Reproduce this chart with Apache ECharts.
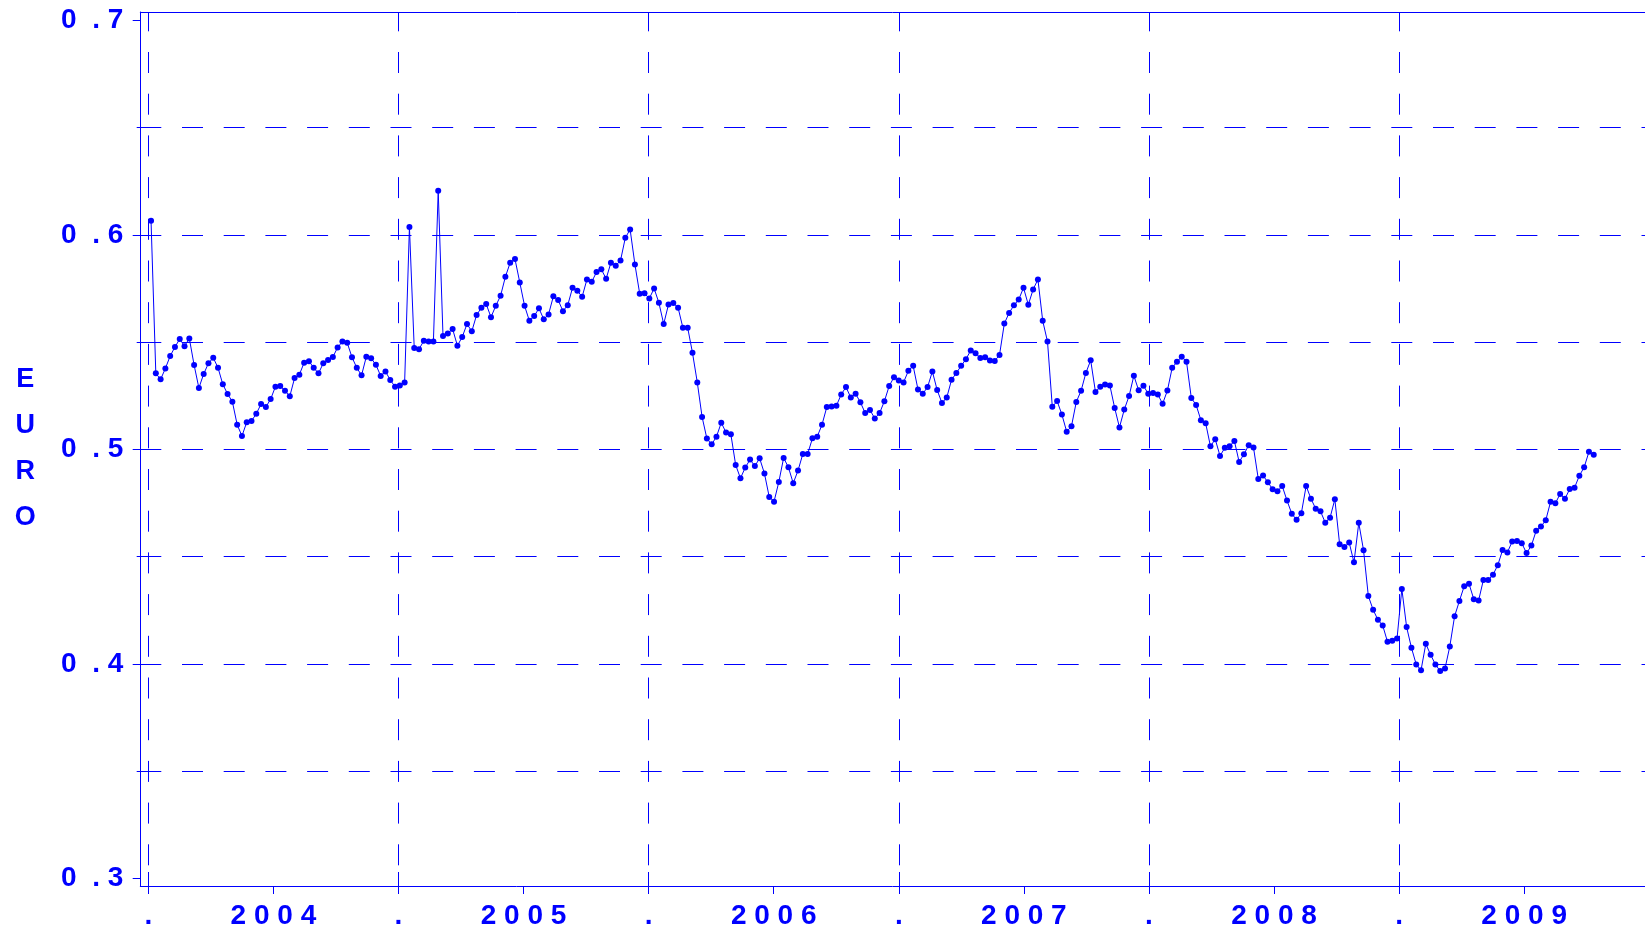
<!DOCTYPE html>
<html>
<head>
<meta charset="utf-8">
<title>EURO</title>
<script src="https://cdn.jsdelivr.net/npm/echarts@6.0.0/dist/echarts.min.js"></script>
<style>
  html, body { margin: 0; padding: 0; background: #fff; }
  #chart { width: 1645px; height: 930px; }
</style>
</head>
<body>
<div id="chart"></div>
<script>
// weekly rates, first week starts 2004-01-05
const rate2004 = [0.6065,0.5354,0.5326,0.5377,0.5435,0.5477,0.5514,0.5481,0.5517,0.5393,
  0.5286,0.5351,0.5401,0.5427,0.5380,0.5303,0.5258,0.5222,0.5115,0.5062,
  0.5126,0.5132,0.5166,0.5211,0.5197,0.5234,0.5292,0.5295,0.5273,0.5247,
  0.5332,0.5348,0.5404,0.5411,0.5380,0.5354,0.5401,0.5416,0.5430,0.5475,
  0.5502,0.5497,0.5429,0.5380,0.5345,0.5432,0.5424,0.5394,0.5342,0.5363,
  0.5323,0.5292]
const rate2005 = [0.5297,0.5312,0.6036,0.5472,0.5467,0.5506,0.5503,0.5503,0.6205,0.5528,
  0.5540,0.5561,0.5483,0.5523,0.5584,0.5550,0.5626,0.5660,0.5677,0.5616,
  0.5669,0.5716,0.5804,0.5870,0.5887,0.5778,0.5669,0.5599,0.5621,0.5657,
  0.5606,0.5629,0.5713,0.5696,0.5644,0.5672,0.5753,0.5739,0.5711,0.5792,
  0.5781,0.5826,0.5839,0.5795,0.5870,0.5856,0.5880,0.5986,0.6025,0.5862,
  0.5725,0.5727]
const rate2006 = [0.5703,0.5750,0.5683,0.5584,0.5675,0.5682,0.5660,0.5567,0.5567,0.5450,
  0.5312,0.5151,0.5050,0.5023,0.5059,0.5124,0.5078,0.5070,0.4927,0.4865,
  0.4915,0.4952,0.4922,0.4958,0.4887,0.4778,0.4756,0.4848,0.4960,0.4916,
  0.4842,0.4901,0.4978,0.4978,0.5051,0.5059,0.5115,0.5197,0.5199,0.5203,
  0.5256,0.5290,0.5241,0.5259,0.5219,0.5169,0.5183,0.5144,0.5169,0.5224,
  0.5295,0.5336]
const rate2007 = [0.5321,0.5312,0.5366,0.5389,0.5279,0.5259,0.5290,0.5363,0.5276,0.5216,
  0.5241,0.5324,0.5356,0.5389,0.5420,0.5461,0.5448,0.5426,0.5429,0.5414,
  0.5412,0.5440,0.5586,0.5636,0.5671,0.5698,0.5753,0.5674,0.5745,0.5792,
  0.5599,0.5502,0.5198,0.5225,0.5162,0.5082,0.5108,0.5221,0.5273,0.5356,
  0.5415,0.5267,0.5292,0.5302,0.5298,0.5193,0.5102,0.5185,0.5248,0.5343,
  0.5275,0.5296,0.5259]
const rate2008 = [0.5262,0.5256,0.5212,0.5274,0.5380,0.5408,0.5432,0.5408,0.5239,0.5207,
  0.5136,0.5122,0.5014,0.5047,0.4969,0.5007,0.5014,0.5039,0.4941,0.4977,
  0.5019,0.5008,0.4862,0.4878,0.4846,0.4814,0.4804,0.4829,0.4761,0.4700,
  0.4671,0.4702,0.4829,0.4770,0.4723,0.4711,0.4658,0.4681,0.4767,0.4557,
  0.4544,0.4565,0.4473,0.4657,0.4529,0.4316,0.4252,0.4205,0.4179,0.4103,
  0.4107,0.4118]
const rate2009 = [0.4349,0.4171,0.4075,0.3997,0.3970,0.4093,0.4042,0.3997,0.3966,0.3978,
  0.4081,0.4222,0.4293,0.4362,0.4373,0.4301,0.4295,0.4391,0.4391,0.4415,
  0.4460,0.4530,0.4519,0.4570,0.4573,0.4562,0.4516,0.4551,0.4620,0.4640,
  0.4669,0.4755,0.4748,0.4792,0.4769,0.4815,0.4821,0.4877,0.4916,0.4988,
  0.4975]

const yearStarts = [2004, 2005, 2006, 2007, 2008, 2009]
const yearMids = [2004.5, 2005.5, 2006.5, 2007.5, 2008.5, 2009.5]
const yMajor = [0.3, 0.4, 0.5, 0.6, 0.7]
const yMinor = [0.35, 0.45, 0.55, 0.65]
const gridLevels = [0.35, 0.4, 0.45, 0.5, 0.55, 0.6, 0.65]

const BLUE = '#0000ff'
const FONT = '"Liberation Sans", Arial, sans-serif'
const DASH = [21, 20.7]

// date -> decimal year, so year boundaries land on integers
function decYear(t) {
  const d = new Date(t)
  const y = d.getUTCFullYear()
  const s = Date.UTC(y, 0, 1)
  const e = Date.UTC(y + 1, 0, 1)
  return y + (t - s) / (e - s)
}

const values = [].concat(rate2004, rate2005, rate2006, rate2007, rate2008, rate2009)
const start = Date.UTC(2004, 0, 5)
const week = 7 * 86400000
const seriesData = values.map((v, i) => [decYear(start + i * week), v])

const X_MIN = 2003.968
const X_MAX = 2009.983
const Y_MIN = 0.29641
const Y_MAX = 0.70387

const chart = echarts.init(document.getElementById('chart'))

const lineCol = { color: BLUE, width: 1 }

chart.setOption({
  animation: false,
  grid: { left: 140.3, right: 0, top: 12, bottom: 43.3 },
  xAxis: [
    {
      type: 'value', min: X_MIN, max: X_MAX, position: 'bottom',
      axisLine: { show: true, onZero: false, lineStyle: lineCol },
      axisTick: { show: true, customValues: yearStarts.concat(yearMids), length: 8, lineStyle: lineCol },
      axisLabel: {
        customValues: yearStarts.concat(yearMids),
        formatter: v => Number.isInteger(v) ? '.' : String(Math.floor(v)).split('').join(' '),
        color: BLUE, fontFamily: FONT, fontWeight: 'bold', fontSize: 28, margin: 16
      },
      splitLine: { show: false }
    },
    {
      // boundary ticks reaching up into the plot
      type: 'value', min: X_MIN, max: X_MAX, position: 'bottom',
      axisLine: { show: false, onZero: false },
      axisTick: { show: true, inside: true, customValues: yearStarts, length: 14, lineStyle: lineCol },
      axisLabel: { show: false },
      splitLine: { show: false }
    },
    {
      // top frame line
      type: 'value', min: X_MIN, max: X_MAX, position: 'top',
      axisLine: { show: true, onZero: false, lineStyle: lineCol },
      axisTick: { show: false },
      axisLabel: { show: false },
      splitLine: { show: false }
    }
  ],
  yAxis: [
    {
      type: 'value', min: Y_MIN, max: Y_MAX, position: 'left',
      axisLine: { show: true, onZero: false, lineStyle: lineCol },
      axisTick: { show: true, customValues: yMajor, length: 7.6, lineStyle: lineCol },
      axisLabel: {
        customValues: yMajor,
        formatter: v => { const s = v.toFixed(1); return s[0] + '  ' + s[1] + ' ' + s[2] },
        color: BLUE, fontFamily: FONT, fontWeight: 'bold', fontSize: 28, margin: 17
      },
      splitLine: { show: false },
      name: 'E\nU\nR\nO',
      nameLocation: 'middle',
      nameRotate: 0,
      nameGap: 115,
      nameTextStyle: {
        color: BLUE, fontFamily: FONT, fontWeight: 'bold', fontSize: 27,
        lineHeight: 46, align: 'center', verticalAlign: 'middle',
        padding: [4, 0, 0, 0]
      }
    },
    {
      type: 'value', min: Y_MIN, max: Y_MAX, position: 'left',
      axisLine: { show: false, onZero: false },
      axisTick: { show: true, customValues: yMinor, length: 3.6, lineStyle: lineCol },
      axisLabel: { show: false },
      splitLine: { show: false }
    }
  ],
  series: [
    {
      type: 'line',
      data: seriesData,
      symbol: 'circle',
      symbolSize: 6,
      itemStyle: { color: BLUE },
      lineStyle: { color: BLUE, width: 1 },
      emphasis: { disabled: true },
      markLine: {
        silent: true,
        symbol: 'none',
        label: { show: false },
        emphasis: { disabled: true },
        lineStyle: { color: BLUE, width: 1, type: DASH },
        data: yearStarts.map(v => ({ xAxis: v, lineStyle: { color: BLUE, width: 1, type: DASH, dashOffset: 21 } }))
          .concat(gridLevels.map(v => ({ yAxis: v })))
      }
    }
  ]
})
</script>
</body>
</html>
